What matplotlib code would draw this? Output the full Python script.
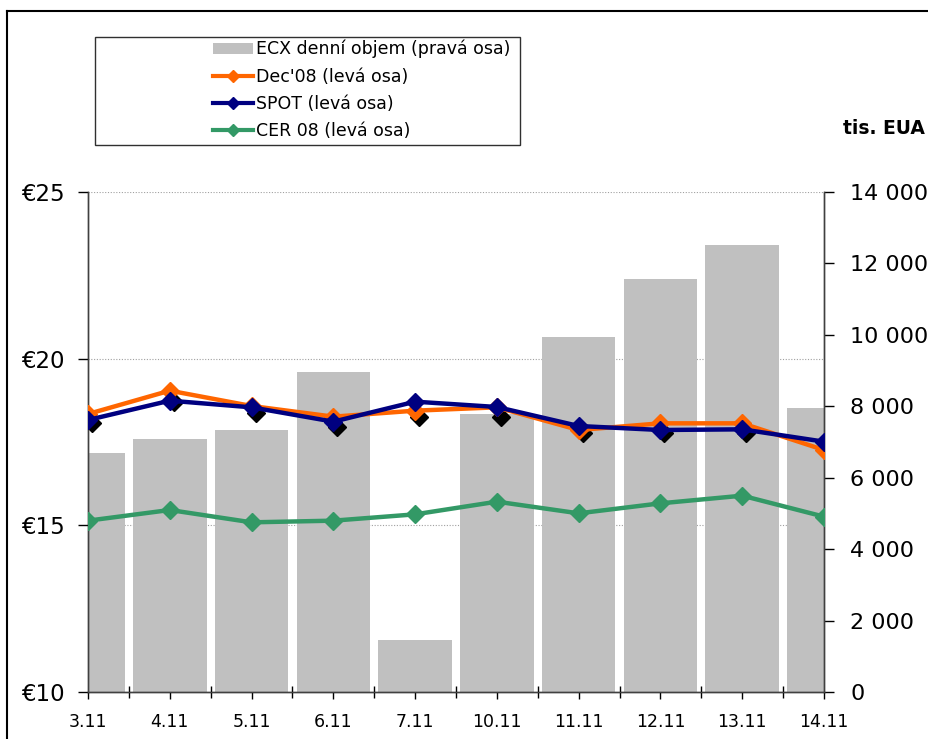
import numpy as np
import matplotlib.pyplot as plt
from matplotlib.lines import Line2D
from matplotlib.patches import Patch, Rectangle
from matplotlib.ticker import FuncFormatter, MultipleLocator
import matplotlib.transforms as mtransforms

# Data
days = ['3.11', '4.11', '5.11', '6.11', '7.11', '10.11', '11.11', '12.11', '13.11', '14.11']
ecx_volume = [6700, 7080, 7340, 8960, 1460, 7780, 9940, 11560, 12520, 7950]
dec08 = [18.34, 19.04, 18.58, 18.26, 18.44, 18.54, 17.86, 18.06, 18.06, 17.26]
spot = [18.16, 18.74, 18.54, 18.11, 18.71, 18.55, 17.98, 17.86, 17.88, 17.51]
cer08 = [15.14, 15.46, 15.09, 15.14, 15.33, 15.71, 15.36, 15.66, 15.89, 15.26]
shadow = [18.07, 18.70, 18.37, 17.95, 18.25, 18.25, 17.77, 17.77, 17.77, 17.17]

labels = ['ECX denní objem (pravá osa)', "Dec'08 (levá osa)",
          'SPOT (levá osa)', 'CER 08 (levá osa)']

bar_color = '#C0C0C0'
orange = '#FF6600'
navy = '#000080'
green = '#339966'

fig = plt.figure(figsize=(9.29, 7.39), dpi=100)
ax = fig.add_axes([88 / 929, 1 - 692 / 739, (824 - 88) / 929, 500 / 739])
ax2 = ax.twinx()
ax.set_zorder(ax2.get_zorder() + 1)
ax.patch.set_visible(False)

x = np.arange(len(days))

# bars on the right axis
ax2.bar(x, ecx_volume, width=0.9, color=bar_color, zorder=2)
ax2.set_ylim(0, 14000)
ax2.yaxis.set_major_locator(MultipleLocator(2000))
ax2.yaxis.set_major_formatter(FuncFormatter(lambda v, p: f'{int(v):,}'.replace(',', ' ')))
ax2.tick_params(axis='y', direction='out', length=7, width=1, pad=12, labelsize=16)

# dotted grid behind the bars, at the left axis levels
blend = mtransforms.blended_transform_factory(ax2.transAxes, ax.transData)
for lvl in [15, 20, 25]:
    ax2.plot([0, 1], [lvl, lvl], transform=blend, color='#A0A0A0', lw=0.8,
             ls=(0, (1, 1.5)), zorder=0)

# lines on the left axis
shift = mtransforms.offset_copy(ax.transData, fig=fig, x=4, y=0, units='dots')
ax.plot(x, shadow, transform=shift, ls='none', marker='D', ms=9, color='black', zorder=2)
ax.plot(x, dec08, color=orange, lw=3.2, marker='D', ms=9, zorder=3)
ax.plot(x, spot, color=navy, lw=3.2, marker='D', ms=9, zorder=4)
ax.plot(x, cer08, color=green, lw=3.2, marker='D', ms=9, zorder=4)

ax.set_xlim(0, 9)
ax.set_ylim(10, 25)
ax.yaxis.set_major_locator(MultipleLocator(5))
ax.yaxis.set_major_formatter(FuncFormatter(lambda v, p: f'€{int(v)}'))
ax.tick_params(axis='y', direction='out', length=7, width=1, pad=10, labelsize=16.5)

ax.set_xticks(x)
ax.set_xticklabels(days)
ax.set_xticks(np.arange(0.5, 9, 1), minor=True)
ax.tick_params(axis='x', which='major', direction='out', length=5, width=1, pad=10, labelsize=12.5)
ax.tick_params(axis='x', which='minor', direction='inout', length=9, width=1)

for a in (ax, ax2):
    a.spines['top'].set_visible(False)
    for s in ['left', 'right', 'bottom']:
        a.spines[s].set_color('#404040')
        a.spines[s].set_linewidth(1)

fig.text(925 / 929, 1 - 128 / 739, 'tis. EUA', ha='right', va='center',
         fontsize=13.5, fontweight='bold')

# legend
handles = [Patch(facecolor=bar_color, edgecolor='none'),
           Line2D([], [], color=orange, lw=3, marker='D', ms=6),
           Line2D([], [], color=navy, lw=3, marker='D', ms=6),
           Line2D([], [], color=green, lw=3, marker='D', ms=6)]
fig.legend(handles, labels, loc='upper left', frameon=False,
           bbox_to_anchor=(213 / 929, 1 - 40 / 739), bbox_transform=fig.transFigure,
           fontsize=12.5, handlelength=2.3, handleheight=0.6, handletextpad=0.15,
           labelspacing=0.53, borderpad=0, borderaxespad=0)
fig.add_artist(Rectangle((95 / 929, 1 - 145 / 739), 425 / 929, 108 / 739,
                         transform=fig.transFigure, fill=False, edgecolor='#303030', lw=1))

# outer frame of the cropped chart
fig.add_artist(Line2D([7 / 929, 1], [1 - 11 / 739, 1 - 11 / 739], color='black', lw=1.5))
fig.add_artist(Line2D([7 / 929, 7 / 929], [0, 1 - 11 / 739], color='black', lw=1.5))

fig.savefig('out.png', dpi=100)
